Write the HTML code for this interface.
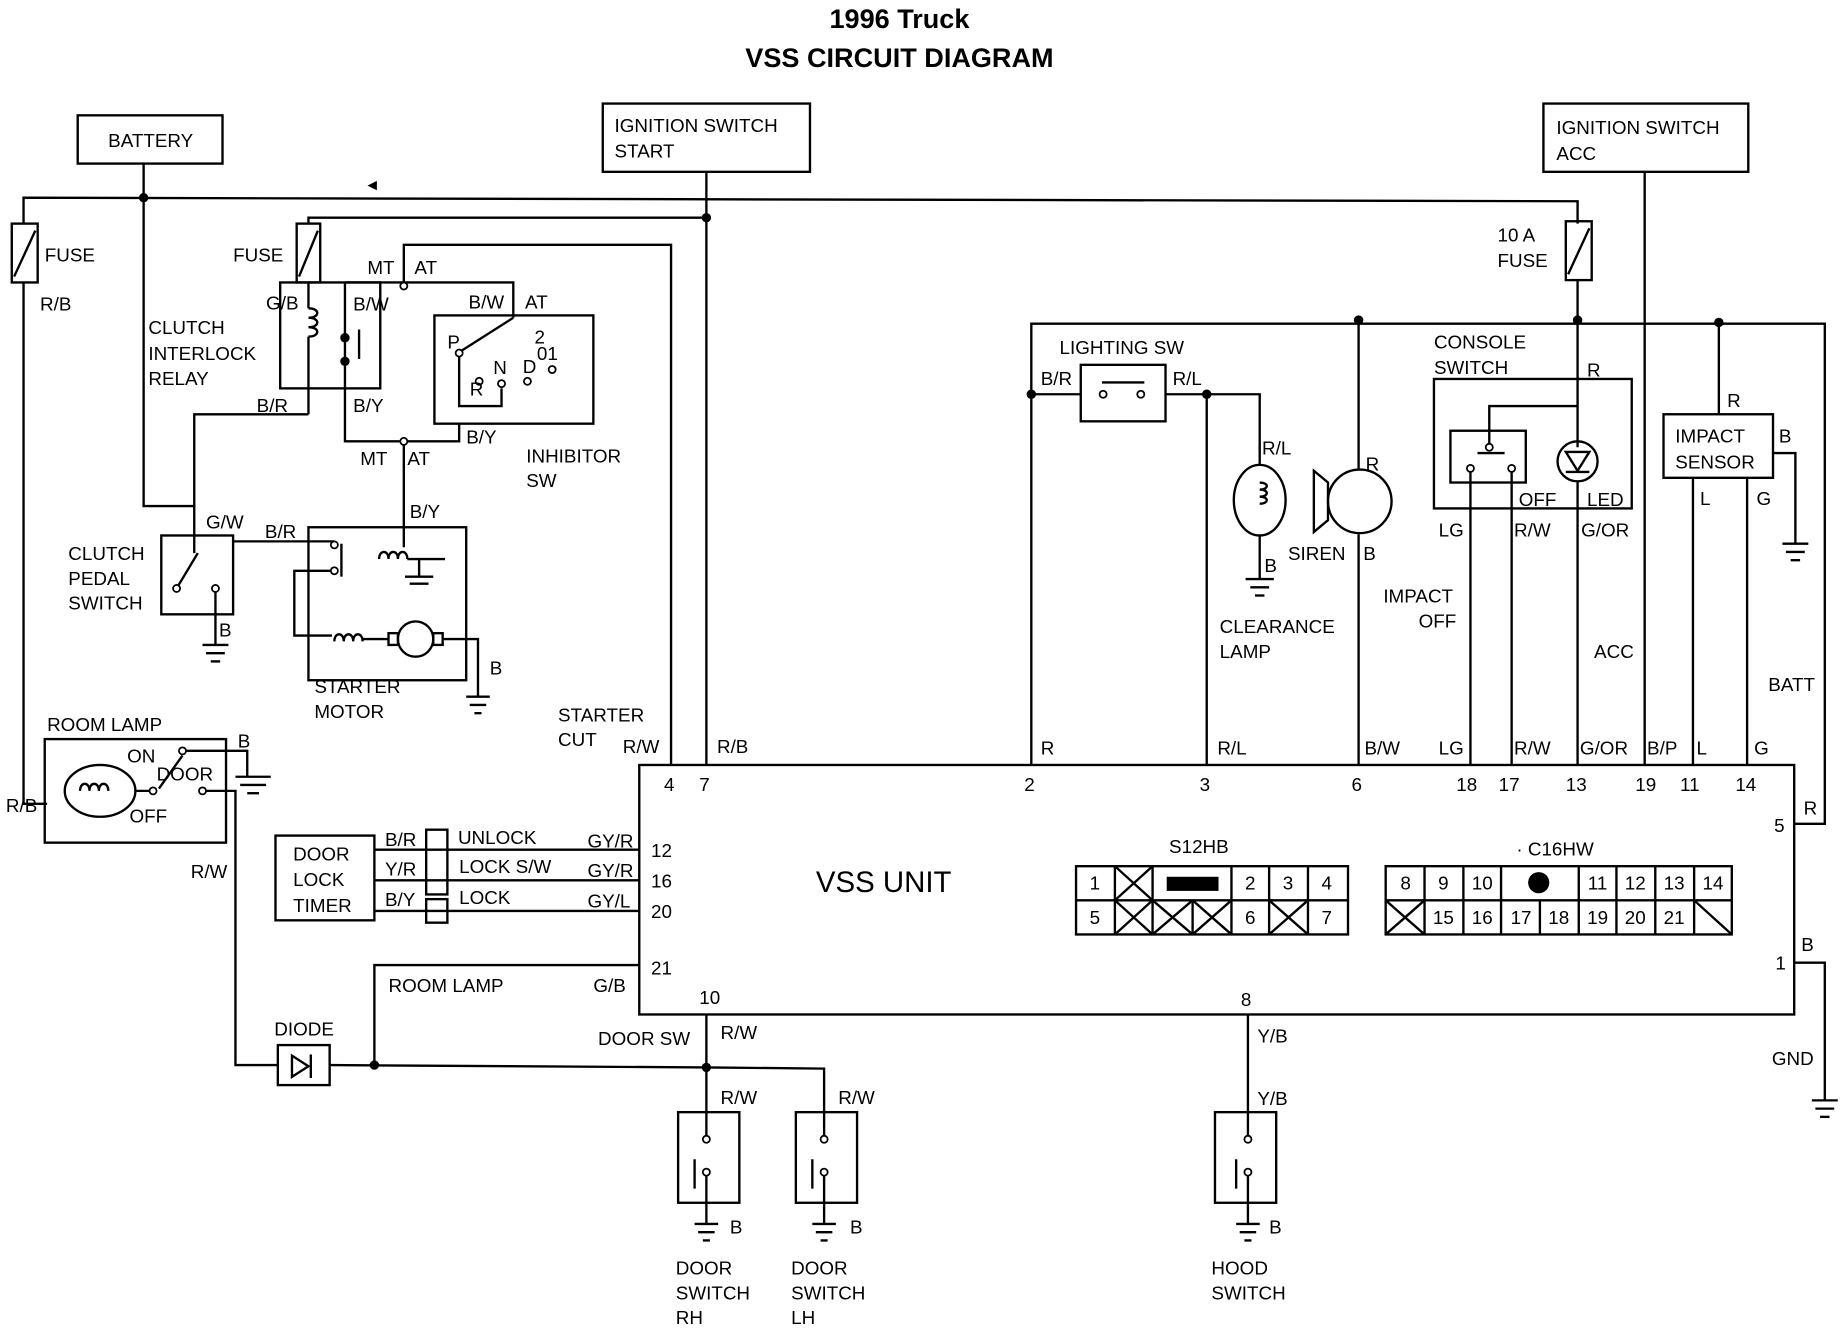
<!DOCTYPE html>
<html><head><meta charset="utf-8"><style>
html,body{margin:0;padding:0;background:#fff;}
svg{display:block;}
text{font-family:"Liberation Sans",sans-serif;font-size:16px;fill:#000;}
.b{font-weight:bold;font-size:23px;}
.m{font-size:25px;}
</style></head><body>
<svg width="1846" height="1344" viewBox="0 0 1568 1142" preserveAspectRatio="none" xmlns="http://www.w3.org/2000/svg">
<g fill="none" stroke="#000" stroke-width="2">
<rect x="66" y="98" width="123" height="41"/>
<rect x="512" y="88" width="176" height="58"/>
<rect x="1311" y="88" width="174" height="58"/>
<polyline points="20,190 20,168 1340,171 1340,190"/>
<line x1="122" y1="139" x2="122" y2="168"/>
<line x1="600" y1="146" x2="600" y2="650"/>
<polyline points="262,190 262,185 600,185"/>
<line x1="1397" y1="146" x2="1397" y2="650"/>
<rect x="10" y="190" width="22" height="50"/><line x1="12" y1="235" x2="30" y2="196"/>
<rect x="252" y="190" width="20" height="50"/><line x1="254" y1="235" x2="270" y2="196"/>
<rect x="1330" y="188" width="22" height="50"/><line x1="1332" y1="233" x2="1350" y2="194"/>
<polyline points="20,240 20,683 40,683"/>
<polyline points="122,168 122,430 165,430 165,455"/>
<rect x="238" y="240" width="85" height="90"/>
<polyline points="262,240 262,262"/>
<path d="M262,262 c10,0 10,8 0,8 c10,0 10,8 0,8 c10,0 10,8 0,8"/>
<line x1="262" y1="286" x2="262" y2="352"/>
<line x1="305" y1="280" x2="305" y2="305"/>
<polyline points="293,240 293,350 293,375 343,375"/>
<polyline points="165,430 165,352 262,352"/>
<polyline points="293,240 343,240 343,208 570,208 570,650"/>
<polyline points="343,240 436,240 436,270"/>
<line x1="436" y1="270" x2="392" y2="298"/>
<rect x="369" y="268" width="135" height="92"/>
<polyline points="390,300 390,345 426,345 426,330"/>
<polyline points="390,360 390,375 343,375 343,448"/>
<rect x="137" y="455" width="61" height="67"/>
<line x1="150" y1="500" x2="168" y2="470"/>
<polyline points="183,500 183,548"/>
<line x1="172" y1="548" x2="194" y2="548"/><line x1="175" y1="555" x2="191" y2="555"/><line x1="179" y1="562" x2="187" y2="562"/>
<polyline points="165,455 165,470"/>
<polyline points="198,460 284,460"/>
<rect x="262" y="448" width="134" height="130"/>
<polyline points="343,448 343,465"/>
<path d="M322,475 c0,-8 8,-8 8,0 c0,-8 8,-8 8,0 c0,-8 8,-8 8,0"/>
<line x1="290" y1="462" x2="290" y2="490"/>
<polyline points="346,475 378,475"/>
<polyline points="356,475 356,490"/><line x1="344" y1="490" x2="368" y2="490"/><line x1="348" y1="496" x2="364" y2="496"/>
<polyline points="284,485 250,485 250,540 282,540"/>
<path d="M284,545 c0,-8 8,-8 8,0 c0,-8 8,-8 8,0 c0,-8 8,-8 8,0"/>
<line x1="308" y1="543" x2="330" y2="543"/>
<rect x="330" y="538" width="8" height="10"/>
<circle cx="353" cy="543" r="15"/>
<rect x="368" y="538" width="8" height="10"/>
<polyline points="376,543 406,543 406,592"/>
<line x1="396" y1="592" x2="416" y2="592"/><line x1="399" y1="599" x2="413" y2="599"/><line x1="403" y1="606" x2="409" y2="606"/>
<rect x="38" y="628" width="154" height="88"/>
<ellipse cx="85" cy="672" rx="30" ry="22"/>
<path d="M68,672 c0,-8 8,-8 8,0 c0,-8 8,-8 8,0 c0,-8 8,-8 8,0"/>
<polyline points="115,672 130,672"/>
<line x1="135" y1="670" x2="155" y2="642"/>
<polyline points="155,638 210,638 210,660"/>
<line x1="200" y1="660" x2="230" y2="660"/><line x1="204" y1="667" x2="226" y2="667"/><line x1="210" y1="674" x2="220" y2="674"/>
<polyline points="170,672 200,672 200,905 236,905"/>
<rect x="236" y="888" width="44" height="34"/>
<polygon points="248,897 248,915 262,906"/><line x1="264" y1="896" x2="264" y2="916"/>
<polyline points="280,905 600,907 700,908 700,945"/>
<polyline points="318,905 318,820 543,820"/>
<rect x="234" y="710" width="84" height="72"/>
<line x1="318" y1="722" x2="543" y2="722"/>
<line x1="318" y1="748" x2="543" y2="748"/>
<line x1="318" y1="774" x2="543" y2="774"/>
<rect x="362" y="705" width="18" height="55"/>
<rect x="362" y="764" width="18" height="20"/>
<rect x="543" y="650" width="981" height="212"/>
<rect x="914" y="736" width="231" height="58"/>
<line x1="914" y1="765" x2="1145" y2="765"/>
<g>
<line x1="947" y1="736" x2="947" y2="794"/><line x1="979" y1="736" x2="979" y2="794"/>
<line x1="1013" y1="765" x2="1013" y2="794"/><line x1="1046" y1="736" x2="1046" y2="794"/>
<line x1="1078" y1="736" x2="1078" y2="794"/><line x1="1111" y1="736" x2="1111" y2="794"/>
<path d="M947,736 L979,765 M979,736 L947,765 M947,765 L979,794 M979,765 L947,794 M979,765 L1013,794 M1013,765 L979,794 M1013,765 L1046,794 M1046,765 L1013,794 M1078,765 L1111,794 M1111,765 L1078,794"/>
</g>
<rect x="1177" y="736" width="294" height="58"/>
<line x1="1177" y1="765" x2="1471" y2="765"/>
<line x1="1210" y1="736" x2="1210" y2="794"/><line x1="1243" y1="736" x2="1243" y2="794"/>
<line x1="1275" y1="736" x2="1275" y2="794"/><line x1="1308" y1="765" x2="1308" y2="794"/>
<line x1="1341" y1="736" x2="1341" y2="794"/><line x1="1373" y1="736" x2="1373" y2="794"/>
<line x1="1406" y1="736" x2="1406" y2="794"/><line x1="1439" y1="736" x2="1439" y2="794"/>
<path d="M1177,765 L1210,794 M1210,765 L1177,794 M1439,765 L1471,794"/>
<line x1="600" y1="862" x2="600" y2="945"/>
<line x1="1060" y1="862" x2="1060" y2="945"/>
<rect x="576" y="945" width="52" height="77"/><rect x="676" y="945" width="52" height="77"/><rect x="1032" y="945" width="52" height="77"/>
<path d="M600,945 V965 M600,995 V1040 M590,985 V1010 M700,945 V965 M700,995 V1040 M690,985 V1010 M1060,945 V965 M1060,995 V1040 M1050,985 V1010"/>
<path d="M590,1040 H610 M593,1047 H607 M597,1054 H603 M690,1040 H710 M693,1047 H707 M697,1054 H703 M1050,1040 H1070 M1053,1047 H1067 M1057,1054 H1063"/>
<polyline points="876,650 876,275 1550,275 1550,700 1524,700"/>
<polyline points="876,335 918,335"/>
<rect x="918" y="310" width="72" height="48"/>
<line x1="936" y1="325" x2="972" y2="325"/>
<polyline points="990,335 1070,335 1070,395"/>
<line x1="1025" y1="335" x2="1025" y2="650"/>
<ellipse cx="1070" cy="425" rx="22" ry="30"/>
<path d="M1070,410 c8,0 8,6 0,6 c8,0 8,6 0,6 c8,0 8,6 0,6"/>
<polyline points="1070,455 1070,492"/>
<line x1="1058" y1="492" x2="1082" y2="492"/><line x1="1062" y1="499" x2="1078" y2="499"/><line x1="1066" y1="506" x2="1074" y2="506"/>
<line x1="1154" y1="275" x2="1154" y2="398"/><line x1="1154" y1="454" x2="1154" y2="650"/>
<circle cx="1155" cy="426" r="27"/>
<polygon points="1128,410 1116,400 1116,452 1128,442"/>
<line x1="1340" y1="238" x2="1340" y2="380"/>
<rect x="1218" y="322" width="168" height="110"/>
<rect x="1232" y="366" width="64" height="44"/>
<polyline points="1340,345 1265,345 1265,380"/>
<line x1="1249" y1="400" x2="1249" y2="650"/>
<line x1="1284" y1="400" x2="1284" y2="650"/>
<line x1="1255" y1="385" x2="1278" y2="385"/>
<circle cx="1340" cy="392" r="17"/>
<polygon points="1330,384 1350,384 1340,400"/><line x1="1330" y1="401" x2="1350" y2="401"/>
<line x1="1340" y1="409" x2="1340" y2="650"/>
<line x1="1460" y1="275" x2="1460" y2="352"/>
<rect x="1413" y="352" width="93" height="54"/>
<line x1="1438" y1="406" x2="1438" y2="650"/>
<line x1="1484" y1="406" x2="1484" y2="650"/>
<polyline points="1506,385 1525,385 1525,462"/>
<line x1="1514" y1="462" x2="1536" y2="462"/><line x1="1517" y1="469" x2="1533" y2="469"/><line x1="1521" y1="476" x2="1529" y2="476"/>
<polyline points="1524,818 1550,818 1550,935"/>
<line x1="1539" y1="935" x2="1561" y2="935"/><line x1="1542" y1="942" x2="1558" y2="942"/><line x1="1546" y1="949" x2="1554" y2="949"/>
</g>
<g fill="#000">
<circle cx="122" cy="168" r="4"/><circle cx="600" cy="185" r="4"/>
<circle cx="293" cy="287" r="4"/><circle cx="293" cy="307" r="4"/>
<circle cx="318" cy="905" r="4"/><circle cx="600" cy="907" r="4"/>
<circle cx="876" cy="335" r="4"/><circle cx="1025" cy="335" r="4"/>
<circle cx="1154" cy="272" r="4"/><circle cx="1340" cy="272" r="4"/><circle cx="1460" cy="274" r="4"/>
<rect x="991" y="745" width="44" height="12"/>
<circle cx="1307" cy="750" r="9"/>
</g>
<g fill="#fff" stroke="#000" stroke-width="1.5">
<circle cx="343" cy="243" r="3"/><circle cx="343" cy="375" r="3"/>
<circle cx="390" cy="300" r="3"/><circle cx="407" cy="324" r="3"/><circle cx="426" cy="326" r="3"/>
<circle cx="448" cy="324" r="3"/><circle cx="469" cy="314" r="3"/>
<circle cx="150" cy="500" r="3"/><circle cx="183" cy="500" r="3"/>
<circle cx="284" cy="463" r="3"/><circle cx="284" cy="485" r="3"/>
<circle cx="155" cy="638" r="3"/><circle cx="130" cy="672" r="3"/><circle cx="172" cy="672" r="3"/>
<circle cx="937" cy="335" r="3"/><circle cx="969" cy="335" r="3"/>
<circle cx="1249" cy="398" r="3"/><circle cx="1284" cy="398" r="3"/><circle cx="1265" cy="380" r="3"/>
<circle cx="600" cy="968" r="3"/><circle cx="600" cy="996" r="3"/><circle cx="700" cy="968" r="3"/><circle cx="700" cy="996" r="3"/>
<circle cx="1060" cy="968" r="3"/><circle cx="1060" cy="996" r="3"/>
</g>
<text class="b" x="764" y="24" text-anchor="middle">1996 Truck</text>
<text class="b" x="764" y="57" text-anchor="middle">VSS CIRCUIT DIAGRAM</text>
<text x="128" y="125" text-anchor="middle">BATTERY</text>
<text x="522" y="112">IGNITION SWITCH</text><text x="522" y="134">START</text>
<text x="1322" y="114">IGNITION SWITCH</text><text x="1322" y="136">ACC</text>
<text x="1272" y="205">10 A</text><text x="1272" y="227">FUSE</text>
<text x="38" y="222">FUSE</text><text x="34" y="264">R/B</text>
<text x="198" y="222">FUSE</text><text x="226" y="263">G/B</text>
<text x="126" y="284">CLUTCH</text><text x="126" y="306">INTERLOCK</text><text x="126" y="327">RELAY</text>
<text x="312" y="233">MT</text><text x="352" y="233">AT</text>
<text x="300" y="264">B/W</text><text x="398" y="262">B/W</text><text x="446" y="262">AT</text>
<text x="380" y="296">P</text><text x="454" y="292">2</text><text x="444" y="317">D</text><text x="456" y="306">01</text>
<text x="419" y="318">N</text><text x="399" y="336">R</text>
<text x="218" y="350">B/R</text><text x="300" y="350">B/Y</text><text x="396" y="377">B/Y</text>
<text x="306" y="395">MT</text><text x="346" y="395">AT</text>
<text x="447" y="393">INHIBITOR</text><text x="447" y="414">SW</text>
<text x="348" y="440">B/Y</text>
<text x="175" y="449">G/W</text><text x="225" y="457">B/R</text>
<text x="58" y="476">CLUTCH</text><text x="58" y="497">PEDAL</text><text x="58" y="518">SWITCH</text>
<text x="186" y="541">B</text><text x="416" y="573">B</text>
<text x="267" y="589">STARTER</text><text x="267" y="610">MOTOR</text>
<text x="474" y="613">STARTER</text><text x="474" y="634">CUT</text><text x="529" y="640">R/W</text>
<text x="609" y="640">R/B</text>
<text x="40" y="621">ROOM LAMP</text><text x="202" y="635">B</text>
<text x="108" y="648">ON</text><text x="133" y="663">DOOR</text><text x="110" y="699">OFF</text>
<text x="5" y="690">R/B</text><text x="162" y="746">R/W</text>
<text x="249" y="731">DOOR</text><text x="249" y="753">LOCK</text><text x="249" y="775">TIMER</text>
<text x="327" y="719">B/R</text><text x="327" y="744">Y/R</text><text x="327" y="770">B/Y</text>
<text x="389" y="717">UNLOCK</text><text x="390" y="742">LOCK S/W</text><text x="390" y="768">LOCK</text>
<text x="499" y="720">GY/R</text><text x="499" y="745">GY/R</text><text x="499" y="771">GY/L</text>
<text x="553" y="728">12</text><text x="553" y="754">16</text><text x="553" y="780">20</text><text x="553" y="828">21</text>
<text x="330" y="843">ROOM LAMP</text><text x="504" y="843">G/B</text>
<text x="564" y="672">4</text><text x="594" y="672">7</text>
<text class="m" x="693" y="758">VSS UNIT</text>
<text x="233" y="880">DIODE</text>
<text x="594" y="853">10</text><text x="1054" y="855">8</text>
<text x="508" y="888">DOOR SW</text><text x="612" y="883">R/W</text>
<text x="612" y="938">R/W</text><text x="712" y="938">R/W</text><text x="1068" y="886">Y/B</text><text x="1068" y="939">Y/B</text>
<text x="620" y="1048">B</text><text x="722" y="1048">B</text><text x="1078" y="1048">B</text>
<text x="574" y="1083">DOOR</text><text x="574" y="1104">SWITCH</text><text x="574" y="1125">RH</text>
<text x="672" y="1083">DOOR</text><text x="672" y="1104">SWITCH</text><text x="672" y="1125">LH</text>
<text x="1029" y="1083">HOOD</text><text x="1029" y="1104">SWITCH</text>
<text x="900" y="301">LIGHTING SW</text>
<text x="884" y="327">B/R</text><text x="996" y="327">R/L</text>
<text x="1072" y="386">R/L</text><text x="1074" y="486">B</text>
<text x="1036" y="538">CLEARANCE</text><text x="1036" y="559">LAMP</text>
<text x="1160" y="400">R</text><text x="1094" y="476">SIREN</text><text x="1158" y="476">B</text>
<text x="1218" y="296">CONSOLE</text><text x="1218" y="318">SWITCH</text><text x="1348" y="320">R</text>
<text x="1290" y="430">OFF</text><text x="1348" y="430">LED</text>
<text x="1222" y="456">LG</text><text x="1286" y="456">R/W</text><text x="1343" y="456">G/OR</text>
<text x="1175" y="512">IMPACT</text><text x="1205" y="533">OFF</text>
<text x="1354" y="559">ACC</text><text x="1502" y="587">BATT</text>
<text x="1467" y="346">R</text>
<text x="1423" y="376">IMPACT</text><text x="1423" y="398">SENSOR</text><text x="1511" y="376">B</text>
<text x="1444" y="429">L</text><text x="1492" y="429">G</text>
<text x="884" y="641">R</text><text x="1034" y="641">R/L</text><text x="1159" y="641">B/W</text>
<text x="1222" y="641">LG</text><text x="1286" y="641">R/W</text><text x="1342" y="641">G/OR</text>
<text x="1399" y="641">B/P</text><text x="1441" y="641">L</text><text x="1490" y="641">G</text>
<text x="870" y="672">2</text><text x="1019" y="672">3</text><text x="1148" y="672">6</text>
<text x="1237" y="672">18</text><text x="1273" y="672">17</text><text x="1330" y="672">13</text>
<text x="1389" y="672">19</text><text x="1427" y="672">11</text><text x="1474" y="672">14</text>
<text x="1507" y="707">5</text><text x="1532" y="692">R</text>
<text x="1508" y="824">1</text><text x="1530" y="808">B</text><text x="1505" y="905">GND</text>
<text x="993" y="725">S12HB</text><text x="1288" y="727">· C16HW</text>
<g text-anchor="middle">
<text x="930" y="756">1</text><text x="1062" y="756">2</text><text x="1094" y="756">3</text><text x="1127" y="756">4</text>
<text x="930" y="785">5</text><text x="1062" y="785">6</text><text x="1127" y="785">7</text>
<text x="1194" y="756">8</text><text x="1226" y="756">9</text><text x="1259" y="756">10</text>
<text x="1357" y="756">11</text><text x="1389" y="756">12</text><text x="1422" y="756">13</text><text x="1455" y="756">14</text>
<text x="1226" y="785">15</text><text x="1259" y="785">16</text><text x="1292" y="785">17</text><text x="1324" y="785">18</text>
<text x="1357" y="785">19</text><text x="1389" y="785">20</text><text x="1422" y="785">21</text>
</g>
<text x="312" y="162" font-size="12">◂</text>
</svg>
</body></html>
